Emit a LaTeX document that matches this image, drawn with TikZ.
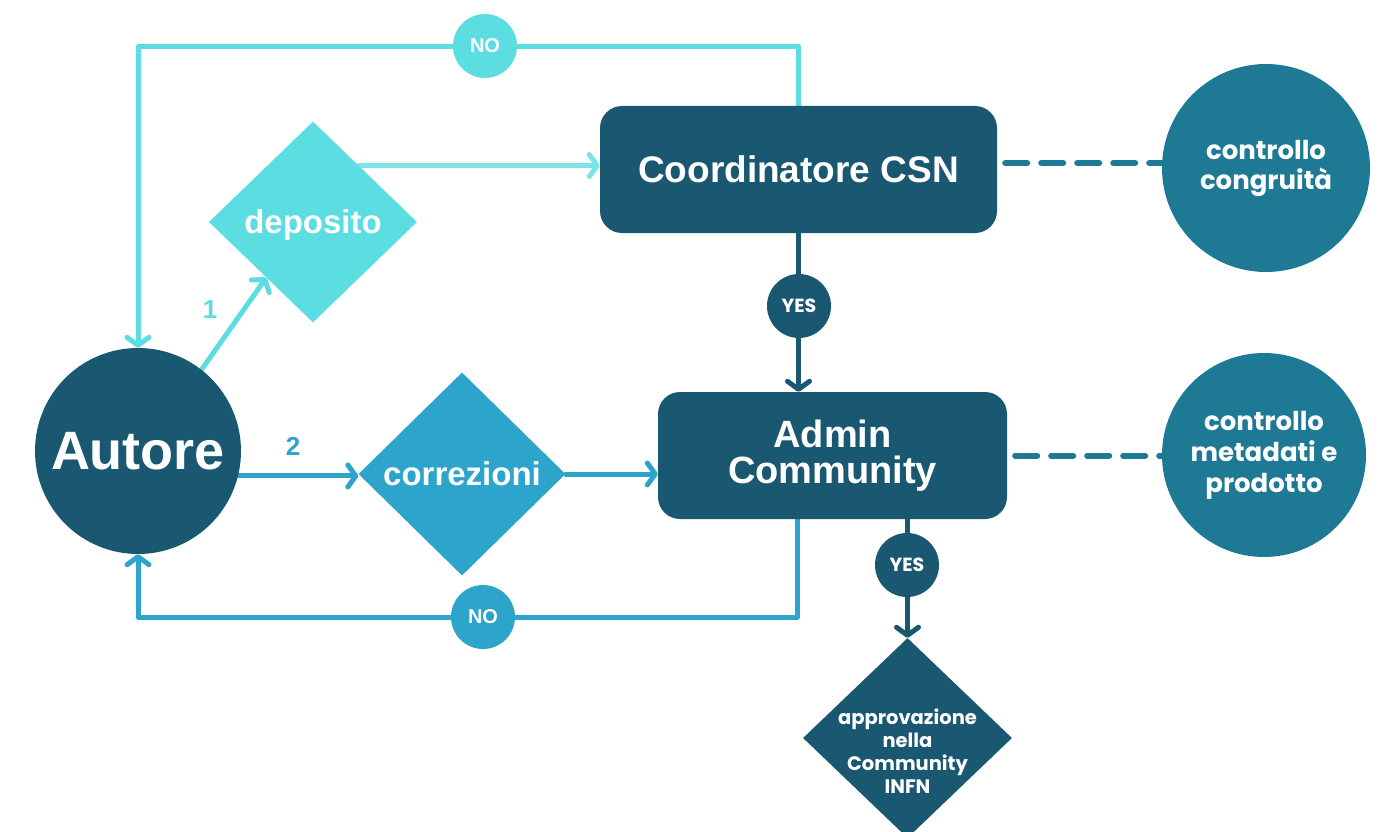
\documentclass[tikz,border=0pt]{standalone}
\usepackage{fontspec}
\setmainfont{Liberation Sans}
\newfontfamily\pop{Poppins}
\usetikzlibrary{shapes.geometric,arrows.meta}
\pgfdeclarelayer{bg}
\pgfsetlayers{bg,main}
\definecolor{navy}{HTML}{1A5872}
\definecolor{tealc}{HTML}{1E7995}
\definecolor{cyanc}{HTML}{5CDDE1}
\definecolor{cyanl}{HTML}{7EE3E7}
\definecolor{midblue}{HTML}{2CA4CC}
\tikzset{
  circ/.style={circle, inner sep=0pt, text=white, align=center},
  dia/.style={diamond, inner sep=0pt, aspect=1.04},
  box/.style={rectangle, rounded corners=22pt, fill=navy, text=white, align=center, inner sep=0pt},
  conn/.style={line width=5pt, line cap=round, line join=round},
  arr/.style={conn, -{Straight Barb[length=8pt,width=22pt,round]}},
  dashline/.style={line width=6pt, line cap=round, dash pattern=on 22pt off 14pt, tealc},
  numlab/.style={font=\fontsize{26}{30}\selectfont\bfseries},
  smalltxt/.style={font=\fontsize{20}{24}\selectfont\bfseries, text=white},
  poptxt/.style={font=\pop\bfseries\fontsize{19}{22}\selectfont, text=white}
}
\begin{document}
\begin{tikzpicture}[x=1pt,y=-1pt]
\useasboundingbox (0,0) rectangle (1384,832);
% main nodes
\node[circ, fill=navy, minimum size=206pt, font=\fontsize{54}{60}\selectfont\bfseries] (autore) at (138,451) {Autore};
\node[dia, fill=cyanc, minimum width=208pt, minimum height=201pt,
  label={[yshift=-3pt, text=white, font=\fontsize{33}{38}\selectfont\bfseries]center:deposito}] (dep) at (313,222) {};
\node[dia, fill=midblue, minimum width=207pt, minimum height=203pt,
  label={[text=white, font=\fontsize{33}{38}\selectfont\bfseries]center:correzioni}] (corr) at (462,474) {};
\node[box, minimum width=397pt, minimum height=127pt, font=\fontsize{37}{40}\selectfont\bfseries] (coord) at (798.5,169.5) {Coordinatore CSN};
\node[box, minimum width=349pt, minimum height=127pt, font=\fontsize{38}{36}\selectfont\bfseries] (admin) at (832.5,455.5) {Admin\\Community};
\node[circ, fill=tealc, minimum size=208pt, font=\pop\bfseries\fontsize{26}{30}\selectfont] (c1) at (1266,168) {controllo\\congruità};
\node[circ, fill=tealc, minimum size=204pt, font=\pop\bfseries\fontsize{26}{31}\selectfont] (c2) at (1264,455) {controllo\\metadati e\\prodotto};
\node[dia, fill=navy, minimum width=209pt, minimum height=200pt,
  label={[yshift=-13pt, text=white, align=center, font=\pop\bfseries\fontsize{19.5}{23}\selectfont]center:approvazione\\nella\\Community\\INFN}] (appr) at (907.5,738) {};
% connectors
\begin{pgfonlayer}{bg}
\draw[arr, cyanc] (coord.north) |- (485,47) -| (autore.north);
\draw[arr, cyanl] (dep.51) -- (dep.51 -| coord.west);
\draw[arr, cyanc] (autore.52) -- (dep.230);
\draw[arr, midblue] (autore.-14) -- (autore.-14 -| corr.west);
\draw[arr, midblue] (corr.east) -- (corr.east -| admin.west);
\draw[arr, midblue] ([xshift=-35pt]admin.south) |- (483,617) -| (autore.south);
\draw[arr, navy] (coord.south) -- (coord.south |- admin.north);
\draw[arr, navy] ([xshift=75pt]admin.south) -- (appr.north);
\draw[dashline] ([xshift=8pt,yshift=5pt]coord.east |- c1.west) -- ([yshift=5pt]c1.west);
\draw[dashline] ([xshift=8pt]admin.east) -- (admin.east -| c2.west);
\end{pgfonlayer}
% small circles
\node[circ, fill=cyanc, minimum size=64pt, smalltxt] (no1) at (485,46) {NO};
\node[circ, fill=midblue, minimum size=64pt, smalltxt] (no2) at (483,617) {NO};
\node[circ, fill=navy, minimum size=64pt, poptxt] (yes1) at (799,306) {YES};
\node[circ, fill=navy, minimum size=64pt, poptxt] (yes2) at (907,565) {YES};
% labels
\node[numlab, text=cyanc] (l1) at (210,310) {1};
\node[numlab, text=midblue] (l2) at (293,446) {2};
\end{tikzpicture}
\end{document}
